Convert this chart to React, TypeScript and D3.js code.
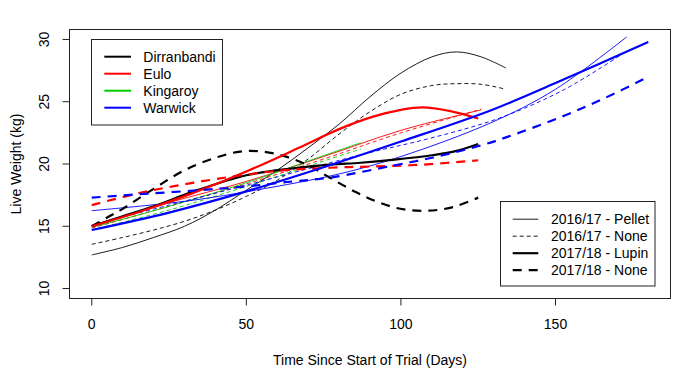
import React from "react";
import * as d3 from "d3";

// ---- Data ----
const sites = ["Dirranbandi", "Eulo", "Kingaroy", "Warwick"];
const siteColors = ["#000000", "#FF0000", "#00CD00", "#0000FF"];
const treatments = ["2016/17 - Pellet", "2016/17 - None", "2017/18 - Lupin", "2017/18 - None"];

const xTicks = [0, 50, 100, 150];
const yTicks = [10, 15, 20, 25, 30];

// Dirranbandi
const dirPelletDays = [0, 10, 20, 30, 40, 50, 60, 70, 80, 90, 100, 110, 118, 126, 134];
const dirPelletWt = [12.7, 13.3, 14.1, 15.0, 16.3, 17.9, 19.5, 21.3, 23.2, 25.4, 27.3, 28.6, 29.0, 28.6, 27.7];
const dirNone16Days = [0, 10, 20, 30, 40, 50, 60, 70, 80, 90, 100, 110, 118, 126, 134];
const dirNone16Wt = [13.55, 14.1, 14.7, 15.4, 16.3, 17.4, 18.7, 20.4, 22.4, 24.2, 25.6, 26.3, 26.45, 26.4, 26.0];
const dirLupinDays = [0, 10, 20, 33, 50, 65, 77, 87, 98, 110, 118, 125];
const dirLupinWt = [15.0, 15.8, 16.6, 17.8, 19.1, 19.65, 19.95, 20.1, 20.35, 20.7, 21.05, 21.6];
const dirNone17Days = [0, 5, 10, 20, 30, 40, 48, 55, 62, 70, 77, 85, 93, 101, 109, 117, 125];
const dirNone17Wt = [15.0, 15.7, 16.4, 18.0, 19.5, 20.5, 21.0, 21.0, 20.65, 19.9, 18.9, 17.8, 16.9, 16.35, 16.25, 16.55, 17.3];

// Eulo
const euloPelletDays = [0, 25, 50, 75, 100, 126];
const euloPelletWt = [15.0, 16.9, 18.6, 20.6, 22.7, 24.35];
const euloNone16Days = [0, 25, 50, 75, 100, 126];
const euloNone16Wt = [14.85, 16.6, 18.4, 20.4, 22.5, 24.4];
const euloLupinDays = [0, 16, 32, 50, 67, 80, 91, 100, 107, 116, 125];
const euloLupinWt = [15.0, 16.2, 17.6, 19.4, 21.3, 22.8, 23.8, 24.35, 24.55, 24.25, 23.65];
const euloNone17Days = [0, 16, 33, 50, 60, 77, 90, 107, 125];
const euloNone17Wt = [16.7, 17.7, 18.5, 19.15, 19.45, 19.7, 19.8, 19.95, 20.3];

// Kingaroy
const kingPelletDays = [0, 25, 50, 77, 87];
const kingPelletWt = [14.9, 16.6, 18.5, 20.85, 21.7];
const kingNone16Days = [0, 25, 50, 77, 87];
const kingNone16Wt = [14.7, 16.3, 18.2, 20.4, 21.2];

// Warwick
const warPelletDays = [0, 17, 33, 53, 80, 100, 129, 150, 173];
const warPelletWt = [16.25, 16.65, 17.1, 17.9, 19.2, 20.6, 23.3, 26.0, 30.2];
const warNone16Days = [0, 25, 50, 88, 110, 132, 153, 172];
const warNone16Wt = [15.1, 16.7, 18.3, 20.8, 22.1, 23.7, 26.0, 28.9];
const warLupinDays = [0, 25, 50, 77, 100, 129, 150, 180];
const warLupinWt = [14.7, 16.1, 17.8, 19.9, 21.8, 24.3, 26.5, 29.8];
const warNone17Days = [0, 17, 35, 50, 65, 77, 98, 110, 126, 137, 153, 166, 180];
const warNone17Wt = [17.3, 17.6, 17.9, 18.2, 18.6, 18.9, 19.9, 20.5, 21.5, 22.4, 23.9, 25.3, 27.0];

const seriesList = [
  { site: 0, trt: 0, days: dirPelletDays, wt: dirPelletWt },
  { site: 0, trt: 1, days: dirNone16Days, wt: dirNone16Wt },
  { site: 1, trt: 0, days: euloPelletDays, wt: euloPelletWt },
  { site: 1, trt: 1, days: euloNone16Days, wt: euloNone16Wt },
  { site: 2, trt: 0, days: kingPelletDays, wt: kingPelletWt },
  { site: 2, trt: 1, days: kingNone16Days, wt: kingNone16Wt },
  { site: 3, trt: 0, days: warPelletDays, wt: warPelletWt },
  { site: 3, trt: 1, days: warNone16Days, wt: warNone16Wt },
  { site: 0, trt: 2, days: dirLupinDays, wt: dirLupinWt },
  { site: 0, trt: 3, days: dirNone17Days, wt: dirNone17Wt },
  { site: 1, trt: 2, days: euloLupinDays, wt: euloLupinWt },
  { site: 1, trt: 3, days: euloNone17Days, wt: euloNone17Wt },
  { site: 3, trt: 2, days: warLupinDays, wt: warLupinWt },
  { site: 3, trt: 3, days: warNone17Days, wt: warNone17Wt },
];

// ---- Styles ----
const trtStyle = [
  { w: 0.9, dash: undefined as string | undefined },
  { w: 0.9, dash: "4,3" },
  { w: 2.2, dash: undefined as string | undefined },
  { w: 2.2, dash: "9,7" },
];

const FONT = "'Liberation Sans', Arial, sans-serif";
const W = 700;
const H = 381;
const left = 69.5, right = 670.5, top = 29.5, bottom = 298.5;

export default function App() {
  const x = d3.scaleLinear().domain([-7.2, 187.2]).range([left, right]);
  const y = d3.scaleLinear().domain([9.2, 30.8]).range([bottom, top]);
  const line = d3
    .line<[number, number]>()
    .x((d) => x(d[0]))
    .y((d) => y(d[1]))
    .curve(d3.curveCatmullRom.alpha(0.5));

  const midY = (top + bottom) / 2;
  const midX = (left + right) / 2;

  return (
    <svg
      width={W}
      height={H}
      style={{ position: "absolute", left: 0, top: 0, background: "#fff" }}
      fontFamily={FONT}
    >
      <rect x={0} y={0} width={W} height={H} fill="#fff" />
      <defs>
        <clipPath id="plotclip">
          <rect x={left} y={top} width={right - left} height={bottom - top} />
        </clipPath>
      </defs>
      <g clipPath="url(#plotclip)">
        {seriesList.map((s, i) => {
          const pts = s.days.map((d, k) => [d, s.wt[k]] as [number, number]);
          const st = trtStyle[s.trt];
          return (
            <path
              key={i}
              d={line(pts) || ""}
              fill="none"
              stroke={siteColors[s.site]}
              strokeWidth={st.w}
              strokeDasharray={st.dash}
            />
          );
        })}
      </g>
      {/* box */}
      <rect x={left} y={top} width={right - left} height={bottom - top} fill="none" stroke="#222" strokeWidth={1} />
      {/* x axis */}
      {xTicks.map((t) => (
        <g key={"x" + t}>
          <line x1={x(t)} x2={x(t)} y1={bottom} y2={bottom + 7} stroke="#222" />
          <text x={x(t)} y={329} fontSize={14} textAnchor="middle" fill="#000">
            {t}
          </text>
        </g>
      ))}
      {/* y axis */}
      {yTicks.map((t) => (
        <g key={"y" + t}>
          <line x1={left - 7} x2={left} y1={y(t)} y2={y(t)} stroke="#222" />
          <text
            transform={`translate(49,${y(t)}) rotate(-90)`}
            fontSize={14}
            textAnchor="middle"
            fill="#000"
          >
            {t}
          </text>
        </g>
      ))}
      <text x={midX} y={365} fontSize={14} textAnchor="middle" fill="#000">
        Time Since Start of Trial (Days)
      </text>
      <text transform={`translate(21,${midY}) rotate(-90)`} fontSize={14} textAnchor="middle" fill="#000">
        Live Weight (kg)
      </text>

      {/* site legend */}
      <rect x={91.5} y={39.5} width={131} height={85.5} fill="#fff" stroke="#222" />
      {sites.map((s, i) => (
        <g key={s}>
          <line x1={104.3} x2={131} y1={56.7 + i * 17} y2={56.7 + i * 17} stroke={siteColors[i]} strokeWidth={2} />
          <text x={143.3} y={56.7 + i * 17 + 5} fontSize={14} fill="#000">
            {s}
          </text>
        </g>
      ))}

      {/* treatment legend */}
      <rect x={500.5} y={201.5} width={154.5} height={84.5} fill="#fff" stroke="#222" />
      {treatments.map((t, i) => (
        <g key={t}>
          <line
            x1={512.7}
            x2={538.3}
            y1={219.2 + i * 17}
            y2={219.2 + i * 17}
            stroke="#000"
            strokeWidth={trtStyle[i].w}
            strokeDasharray={trtStyle[i].dash}
          />
          <text x={551} y={219.2 + i * 17 + 5} fontSize={14} fill="#000">
            {t}
          </text>
        </g>
      ))}
    </svg>
  );
}
